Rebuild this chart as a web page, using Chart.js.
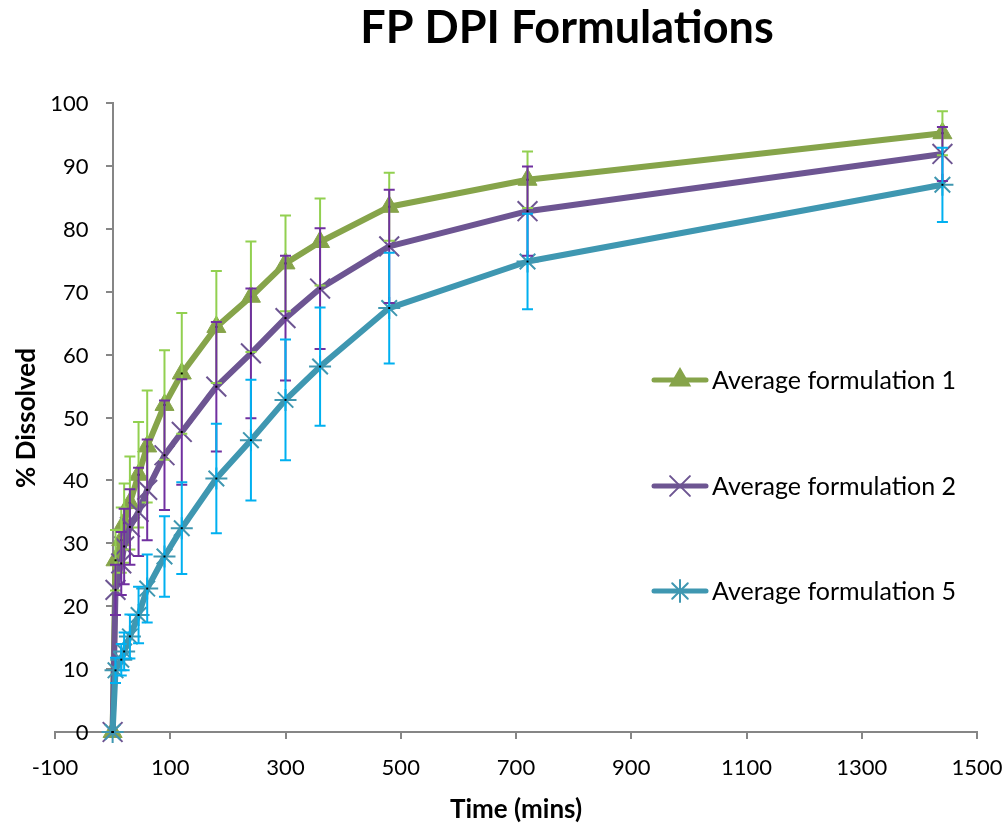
<!doctype html>
<html lang="en">
<head>
    <meta charset="utf-8">
    <title>FP DPI Formulations</title>
    <style>
        body { margin: 0; background: #fff; }
        #container { width: 1007px; height: 823px; }
    </style>
</head>
<body>
    <div id="container">
        <canvas id="myChart" width="1007" height="823"></canvas>
    </div>

    <script src="https://cdn.jsdelivr.net/npm/chart.js@4.4.0/dist/chart.umd.min.js"></script>
    <script>
        // time points (mins)
        let times = [0, 5, 15, 20, 30, 45, 60, 90, 120, 180, 240, 300, 360, 480, 720, 1440];

        // % dissolved
        let form1 = [0, 27.3, 30.5, 33.2, 36.4, 40.9, 45.4, 52.0, 57.0, 64.4, 69.2, 74.5, 77.9, 83.5, 87.8, 95.2];
        let form2 = [0, 22.6, 26.8, 29.5, 32.6, 35.0, 38.5, 44.0, 47.7, 54.9, 60.2, 65.8, 70.5, 77.2, 82.8, 91.9];
        let form5 = [0, 9.8, 11.5, 12.8, 15.2, 18.6, 22.8, 27.9, 32.4, 40.3, 46.4, 52.8, 58.1, 67.4, 74.8, 87.0];

        // error bar half lengths
        let err1 = [0, 4.8, 5.2, 6.3, 7.4, 8.4, 8.9, 8.7, 9.6, 8.9, 8.8, 7.6, 6.9, 5.4, 4.5, 3.5];
        let err2 = [0, 4.0, 5.0, 6.0, 6.0, 7.0, 8.0, 8.7, 8.4, 10.3, 10.3, 9.9, 9.6, 9.0, 7.1, 4.3];
        let err5 = [0, 2.0, 2.5, 3.0, 3.5, 4.5, 5.4, 6.4, 7.3, 8.7, 9.6, 9.6, 9.4, 8.8, 7.6, 5.9];

        let seriesNames = ['Average formulation 1', 'Average formulation 2', 'Average formulation 5'];
        let xTicks = [-100, 100, 300, 500, 700, 900, 1100, 1300, 1500];

        function toPoints(values) {
            return values.map((v, i) => ({ x: times[i], y: v }));
        }

        // error bars drawn on top of the series, like Excel does
        const errorBars = {
            id: 'errorBars',
            afterDatasetsDraw(chart) {
                const ctx = chart.ctx;
                const x = chart.scales.x, y = chart.scales.y;
                chart.data.datasets.forEach(ds => {
                    ctx.save();
                    ctx.strokeStyle = ds.errColor;
                    ctx.lineWidth = 2;
                    ds.data.forEach((p, i) => {
                        const e = ds.errors[i];
                        const px = x.getPixelForValue(p.x);
                        const py = y.getPixelForValue(p.y);
                        if (e) {
                            const top = y.getPixelForValue(p.y + e);
                            const bot = y.getPixelForValue(p.y - e);
                            ctx.beginPath();
                            ctx.moveTo(px, top); ctx.lineTo(px, bot);
                            ctx.moveTo(px - 5.5, top); ctx.lineTo(px + 5.5, top);
                            ctx.moveTo(px - 5.5, bot); ctx.lineTo(px + 5.5, bot);
                            ctx.stroke();
                        }
                        ctx.fillStyle = '#000';
                        ctx.fillRect(px - 1, py - 1, 2, 2);
                    });
                    ctx.restore();
                });
            }
        };

        // title, y tick labels, y axis title and the legend inside the plot
        const extras = {
            id: 'extras',
            afterDraw(chart) {
                const ctx = chart.ctx;
                const ys = chart.scales.y;
                ctx.save();
                ctx.fillStyle = '#000';
                ctx.textAlign = 'center';
                ctx.textBaseline = 'middle';
                ctx.font = 'bold 45px Lato';
                ctx.fillText('FP DPI Formulations', 567, 28);

                // y labels sit left of the axis that crosses at x = 0
                const axisX = chart.scales.x.getPixelForValue(0);
                ctx.textAlign = 'right';
                ctx.font = '22px Lato';
                ys.ticks.forEach(t => {
                    ctx.fillText(String(t.value), axisX - 24, ys.getPixelForValue(t.value) + 1);
                });

                ctx.save();
                ctx.textAlign = 'center';
                ctx.translate(27, 418);
                ctx.rotate(-Math.PI / 2);
                ctx.font = 'bold 26px Lato';
                ctx.fillText('% Dissolved', 0, 0);
                ctx.restore();

                const rows = [380, 486, 591];
                chart.data.datasets.forEach((ds, i) => {
                    const ly = rows[i];
                    ctx.strokeStyle = ds.borderColor;
                    ctx.fillStyle = ds.borderColor;
                    ctx.lineWidth = 5;
                    ctx.lineCap = 'round';
                    ctx.beginPath();
                    ctx.moveTo(654, ly); ctx.lineTo(706, ly);
                    ctx.stroke();
                    ctx.lineWidth = 2;
                    Chart.helpers.drawPoint(ctx, {
                        pointStyle: ds.pointStyle,
                        radius: ds.pointRadius,
                        rotation: 0,
                        borderWidth: 2
                    }, 680, ly);
                    ctx.fillStyle = '#000';
                    ctx.textAlign = 'left';
                    ctx.font = '25px Lato';
                    ctx.fillText(seriesNames[i], 712, ly + 1);
                });
                ctx.restore();
            }
        };

        let ctx = document.getElementById('myChart').getContext('2d');
        let myChart = new Chart(ctx, {
            type: 'line',
            data: {
                datasets: [
                    {
                        label: seriesNames[0],
                        data: toPoints(form1),
                        errors: err1,
                        errColor: '#92D050',
                        borderColor: '#86A44A',
                        backgroundColor: '#86A44A',
                        pointStyle: 'triangle',
                        pointRadius: 11,
                        pointBorderWidth: 1,
                        clip: false,
                        order: 3
                    },
                    {
                        label: seriesNames[1],
                        data: toPoints(form2),
                        errors: err2,
                        errColor: '#7030A0',
                        borderColor: '#6D5592',
                        backgroundColor: '#6D5592',
                        pointStyle: 'crossRot',
                        pointRadius: 14,
                        pointBorderWidth: 2,
                        clip: false,
                        order: 2
                    },
                    {
                        label: seriesNames[2],
                        data: toPoints(form5),
                        errors: err5,
                        errColor: '#00B0F0',
                        borderColor: '#3F97B1',
                        backgroundColor: '#3F97B1',
                        pointStyle: 'star',
                        pointRadius: 11,
                        pointBorderWidth: 2,
                        clip: false,
                        order: 1
                    }
                ]
            },
            options: {
                responsive: false,
                animation: false,
                elements: {
                    line: { borderWidth: 6, tension: 0, borderJoinStyle: 'round' }
                },
                layout: { padding: { top: 103, left: 55, right: 30, bottom: 0 } },
                plugins: {
                    legend: { display: false },
                    title: { display: false },
                    tooltip: { enabled: false }
                },
                scales: {
                    x: {
                        type: 'linear',
                        min: -100,
                        max: 1500,
                        afterBuildTicks: scale => { scale.ticks = xTicks.map(v => ({ value: v })); },
                        afterFit: scale => {
                            scale.height = 91;
                            scale.paddingLeft = 0;
                            scale.paddingRight = 0;
                        },
                        grid: { drawOnChartArea: false, drawTicks: true, tickLength: 7, color: '#868686', lineWidth: 2 },
                        border: { color: '#868686', width: 2 },
                        ticks: {
                            color: '#000',
                            font: { family: 'Lato', size: 22 },
                            padding: 16,
                            maxRotation: 0,
                            callback: v => String(v)
                        },
                        title: {
                            display: true,
                            text: 'Time (mins)',
                            color: '#000',
                            font: { family: 'Lato', size: 26, weight: 'bold' },
                            padding: { top: 0, bottom: -2 }
                        }
                    },
                    y: {
                        min: 0,
                        max: 100,
                        position: { x: 0 },
                        grid: { drawOnChartArea: false, drawTicks: true, tickLength: 6, color: '#868686', lineWidth: 2 },
                        border: { color: '#868686', width: 2 },
                        ticks: { stepSize: 10, display: false }
                    }
                }
            },
            plugins: [errorBars, extras]
        });
    </script>
</body>
</html>
